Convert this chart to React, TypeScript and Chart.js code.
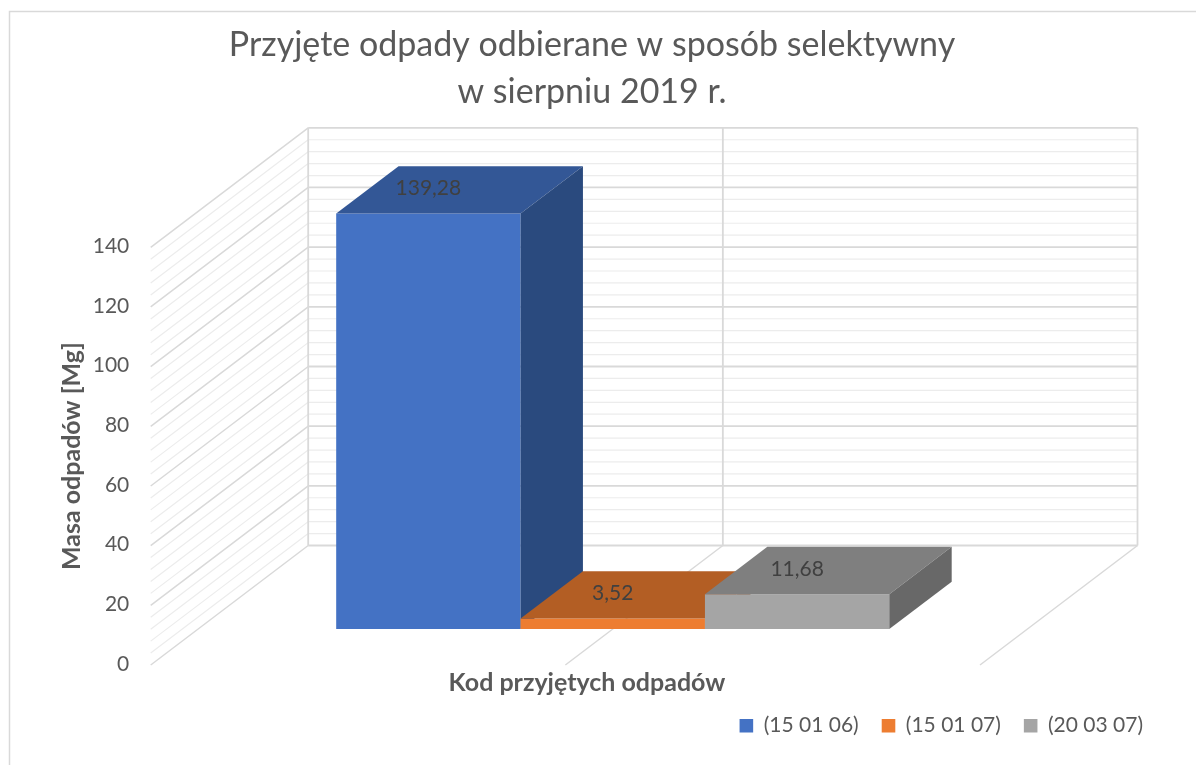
import React, { useEffect, useRef } from "react";
import { Chart, registerables } from "chart.js";

Chart.register(...registerables);

// ---------- data ----------
const categories = ["Kod przyjętych odpadów"];
const seriesNames = ["(15 01 06)", "(15 01 07)", "(20 03 07)"];
const seriesBlue = [139.28];
const seriesOrange = [3.52];
const seriesGray = [11.68];
const seriesValues = [seriesBlue, seriesOrange, seriesGray];
const yMin = 0;
const yMax = 140;
const yStep = 20;
const yMinorStep = 4;
const titleLines = ["Przyjęte odpady odbierane w sposób selektywny", "w sierpniu 2019 r."];
const yAxisTitle = "Masa odpadów [Mg]";
const xAxisTitle = "Kod przyjętych odpadów";

// ---------- styles ----------
const frontColors = ["#4472C4", "#ED7D31", "#A5A5A5"];
const topColors = ["#335796", "#B35E24", "#7F7F7F"];
const sideColors = ["#2A4A7E", "#9A5020", "#686868"];
const TEXT = "#595959";
const FONT = "Lato, 'Open Sans', sans-serif";

// oblique projection of the 3D box
const DEPTH_X = 157.5;
const DEPTH_Y = -119.5;
const BAR_SHIFT = 0.301; // bars front plane, fraction of floor depth
const BAR_DEPTH = 0.396; // bar depth, fraction of floor depth
const PAD_LEFT = 18;

const fmt = (v: number) => v.toFixed(2).replace(".", ",");

function line(ctx: CanvasRenderingContext2D, x1: number, y1: number, x2: number, y2: number, color: string, w: number) {
  ctx.beginPath();
  ctx.strokeStyle = color;
  ctx.lineWidth = w;
  ctx.moveTo(x1, y1);
  ctx.lineTo(x2, y2);
  ctx.stroke();
}

function poly(ctx: CanvasRenderingContext2D, pts: number[][], color: string) {
  ctx.beginPath();
  ctx.moveTo(pts[0][0], pts[0][1]);
  for (let i = 1; i < pts.length; i++) ctx.lineTo(pts[i][0], pts[i][1]);
  ctx.closePath();
  ctx.fillStyle = color;
  ctx.fill();
}

const threeD = {
  id: "threeD",
  beforeDraw(chart: any) {
    const ctx = chart.ctx;
    ctx.save();
    ctx.strokeStyle = "#d9d9d9";
    ctx.lineWidth = 1.5;
    ctx.strokeRect(9.5, 11.5, 1400, 1000);
    ctx.restore();
  },
  beforeDatasetsDraw(chart: any) {
    const ctx = chart.ctx;
    const { left: L, right: R } = chart.chartArea;
    const ys = chart.scales.y;
    const M = (L + R) / 2;
    ctx.save();
    const minorC = "#ececec";
    const majorC = "#d9d9d9";
    for (let v = ys.min; v <= ys.max + 1e-9; v += yMinorStep) {
      if (Math.abs(v % yStep) < 1e-6) continue;
      const y = ys.getPixelForValue(v);
      line(ctx, L, y, L + DEPTH_X, y + DEPTH_Y, minorC, 1.2);
      line(ctx, L + DEPTH_X, y + DEPTH_Y, R + DEPTH_X, y + DEPTH_Y, minorC, 1.2);
    }
    for (let v = ys.min; v <= ys.max + 1e-9; v += yStep) {
      const y = ys.getPixelForValue(v);
      line(ctx, L, y, L + DEPTH_X, y + DEPTH_Y, majorC, 1.5);
      line(ctx, L + DEPTH_X, y + DEPTH_Y, R + DEPTH_X, y + DEPTH_Y, majorC, 1.8);
    }
    const yTop = ys.getPixelForValue(ys.max);
    const y0 = ys.getPixelForValue(ys.min);
    [L, M, R].forEach((x) => line(ctx, x + DEPTH_X, yTop + DEPTH_Y, x + DEPTH_X, y0 + DEPTH_Y, majorC, 1.8));
    [M, R].forEach((x) => line(ctx, x, y0, x + DEPTH_X, y0 + DEPTH_Y, majorC, 1.5));
    ctx.restore();
  },
  // bars are painted below, series by series, front face then top and side
  beforeDatasetDraw() {
    return false;
  },
  afterDatasetsDraw(chart: any) {
    const ctx = chart.ctx;
    const bx = DEPTH_X * BAR_DEPTH;
    const by = DEPTH_Y * BAR_DEPTH;
    ctx.save();
    ctx.translate(DEPTH_X * BAR_SHIFT, DEPTH_Y * BAR_SHIFT);
    seriesNames.forEach((_, i) => {
      const meta = chart.getDatasetMeta(i);
      meta.data.forEach((el: any, j: number) => {
        el.draw(ctx, chart.chartArea);
        const { x, y, base, width } = el.getProps(["x", "y", "base", "width"], true);
        const l = x - width / 2;
        const r = x + width / 2;
        poly(ctx, [[l, y], [l + bx, y + by], [r + bx, y + by], [r, y]], topColors[i]);
        poly(ctx, [[r, y], [r + bx, y + by], [r + bx, base + by], [r, base]], sideColors[i]);
        ctx.fillStyle = "#404040";
        ctx.font = `21px ${FONT}`;
        ctx.textAlign = "center";
        ctx.textBaseline = "middle";
        ctx.fillText(fmt(seriesValues[i][j]), x, y - 25);
      });
    });
    ctx.restore();
  },
  afterDraw(chart: any) {
    const ctx = chart.ctx;
    const { left: L, right: R, bottom } = chart.chartArea;
    ctx.save();
    ctx.fillStyle = TEXT;
    ctx.font = `bold 25px ${FONT}`;
    ctx.textAlign = "center";
    ctx.textBaseline = "middle";
    ctx.fillText(xAxisTitle, (L + R) / 2 + 21.6, bottom + 18);
    ctx.restore();
  },
};

export default function App() {
  const ref = useRef<HTMLCanvasElement | null>(null);
  useEffect(() => {
    if (!ref.current) return;
    const chart = new Chart(ref.current, {
      type: "bar",
      data: {
        labels: categories,
        datasets: seriesNames.map((name, i) => ({
          label: name,
          data: seriesValues[i],
          backgroundColor: frontColors[i],
          borderWidth: 0,
          barPercentage: 1,
          categoryPercentage: 0.667,
        })),
      },
      options: {
        animation: false,
        responsive: false,
        devicePixelRatio: 1,
        layout: { padding: { left: PAD_LEFT, right: 30, top: 0, bottom: 18.8 } },
        plugins: {
          title: {
            display: true,
            text: titleLines,
            color: TEXT,
            font: { family: FONT, size: 34, weight: "normal", lineHeight: 47 / 34 },
            padding: { top: 21.5, bottom: 131.8 },
          },
          legend: {
            position: "bottom",
            align: "end",
            labels: {
              boxWidth: 13.6,
              boxHeight: 13.6,
              padding: 23,
              color: TEXT,
              font: { family: FONT, size: 21 },
            },
          },
          tooltip: { enabled: false },
        },
        scales: {
          x: {
            grid: { display: false, drawTicks: false },
            border: { display: false },
            ticks: { display: false },
            afterFit: (s: any) => {
              s.height = 27.2;
            },
          },
          y: {
            min: yMin,
            max: yMax,
            ticks: { stepSize: yStep, padding: 21.4, labelOffset: -1, color: TEXT, font: { family: FONT, size: 21 } },
            grid: { display: false, drawTicks: false },
            border: { display: false },
            title: {
              display: true,
              text: yAxisTitle,
              color: TEXT,
              font: { family: FONT, size: 25, weight: "bold" },
              padding: { top: 57 - PAD_LEFT, bottom: 0 },
            },
            afterFit: (s: any) => {
              s.width = 150.7 - PAD_LEFT;
            },
          },
          yRight: {
            position: "right",
            display: true,
            grid: { display: false, drawTicks: false },
            border: { display: false },
            ticks: { display: false },
            afterFit: (s: any) => {
              s.width = 186;
            },
          },
        },
      } as any,
      plugins: [threeD as any],
    });
    return () => chart.destroy();
  }, []);
  return (
    <div style={{ position: "absolute", left: 0, top: 0, width: 1196, height: 765, background: "#fff" }}>
      <canvas ref={ref} width={1196} height={765} style={{ display: "block", width: 1196, height: 765 }} />
    </div>
  );
}
